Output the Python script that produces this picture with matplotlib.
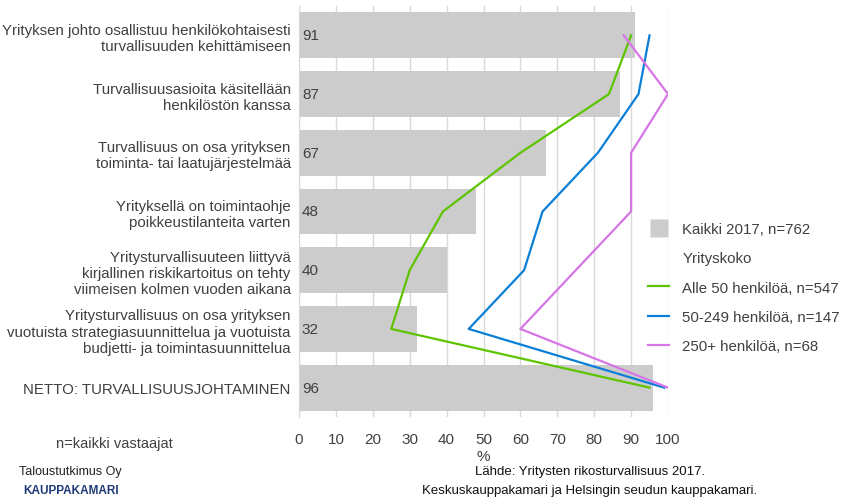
import matplotlib
matplotlib.use("Agg")
import matplotlib.pyplot as plt
from matplotlib.lines import Line2D

categories = [
    "Yrityksen johto osallistuu henkilökohtaisesti\nturvallisuuden kehittämiseen",
    "Turvallisuusasioita käsitellään\nhenkilöstön kanssa",
    "Turvallisuus on osa yrityksen\ntoiminta- tai laatujärjestelmää",
    "Yrityksellä on toimintaohje\npoikkeustilanteita varten",
    "Yritysturvallisuuteen liittyvä\nkirjallinen riskikartoitus on tehty\nviimeisen kolmen vuoden aikana",
    "Yritysturvallisuus on osa yrityksen\nvuotuista strategiasuunnittelua ja vuotuista\nbudjetti- ja toimintasuunnittelua",
    "NETTO: TURVALLISUUSJOHTAMINEN",
]
kaikki = [91, 87, 67, 48, 40, 32, 96]
alle50 = [90, 84, 60, 39, 30, 25, 95]
s50_249 = [95, 92, 81, 66, 61, 46, 99]
s250 = [88, 100, 90, 90, 75, 60, 100]
xticks = [0, 10, 20, 30, 40, 50, 60, 70, 80, 90, 100]

FONT = ["Liberation Sans", "DejaVu Sans"]
plt.rcParams["font.family"] = FONT
txt = "#404040"

fig = plt.figure(figsize=(8.42, 5.02), dpi=100)
ax = fig.add_axes([299/842, 1-418/502, (668-299)/842, (418-7)/502])

y = list(range(len(categories)))
ax.barh(y, kaikki, height=0.78, color="#cccccc", zorder=2)
ax.plot(alle50, y, color="#5fc400", lw=1.6, zorder=3)
ax.plot(s50_249, y, color="#0a7fd8", lw=1.6, zorder=3)
ax.plot(s250, y, color="#d675e6", lw=1.6, zorder=3)

for yi, v in zip(y, kaikki):
    ax.text(0.8, yi, str(v), va="center", ha="left", fontsize=11, color=txt, zorder=4)

ax.set_ylim(6.5, -0.5)
ax.set_xlim(0, 100)
ax.set_xticks(xticks)
ax.set_xticklabels([str(t) for t in xticks], fontsize=11, color=txt)
ax.set_yticks(y)
ax.set_yticklabels(categories, fontsize=10.8, color=txt, ha="right", linespacing=1.2)
ax.tick_params(axis="y", length=0, pad=6)
ax.tick_params(axis="x", length=0, pad=11)
ax.grid(axis="x", color="#d9d9d9", lw=1, zorder=0)
for s in ["top", "right", "bottom"]:
    ax.spines[s].set_visible(False)
ax.spines["left"].set_color("#d9d9d9")
ax.set_xlabel("%", fontsize=11, color=txt, labelpad=2)

handles = [
    Line2D([], [], color="none", marker="s", markersize=12.5,
           markerfacecolor="#cccccc", markeredgecolor="none"),
    Line2D([], [], color="none"),
    Line2D([], [], color="#5fc400", lw=1.6),
    Line2D([], [], color="#0a7fd8", lw=1.6),
    Line2D([], [], color="#d675e6", lw=1.6),
]
labels = ["Kaikki 2017, n=762", "Yrityskoko", "Alle 50 henkilöä, n=547",
          "50-249 henkilöä, n=147", "250+ henkilöä, n=68"]
leg = fig.legend(handles, labels, loc="upper left", bbox_to_anchor=(648/842, 1-223/502),
                 frameon=False, fontsize=10.8, labelspacing=1.02, handlelength=1.4,
                 handletextpad=0.9, borderaxespad=0, borderpad=0)
for t in leg.get_texts():
    t.set_color(txt)

fig.text(114/842, 1-444/502, "n=kaikki vastaajat", ha="center", va="center",
         fontsize=10.5, color=txt)
fig.text(19/842, 1-472/502, "Taloustutkimus Oy", ha="left", va="center",
         fontsize=9, color="#222222")
fig.text(23/842, 1-491/502, "KAUPPAKAMARI", ha="left", va="center",
         fontsize=8.5, color="#1f3a78", fontweight="bold")
fig.text(590/842, 1-472/502, "Lähde: Yritysten rikosturvallisuus 2017.", ha="center",
         va="center", fontsize=9.5, color="#111111")
fig.text(590/842, 1-491/502, "Keskuskauppakamari ja Helsingin seudun kauppakamari.",
         ha="center", va="center", fontsize=9.5, color="#111111")

fig.savefig("out.png", dpi=100)
